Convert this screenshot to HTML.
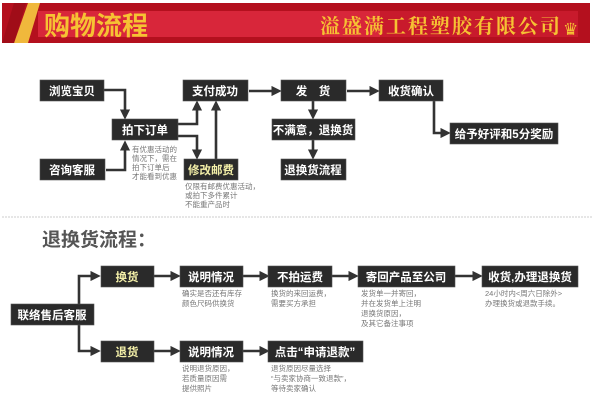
<!DOCTYPE html>
<html><head><meta charset="utf-8"><style>
html,body{margin:0;padding:0;background:#fff;}
svg{display:block;}
text{font-family:"Liberation Sans","Noto Sans CJK SC",sans-serif;}
.b{fill:#2a2a2a;stroke:#555;stroke-width:0.6;}
.t{fill:#fff;font-size:11.5px;font-weight:bold;text-anchor:middle;}
.y{fill:#f3efa8;}
.s{fill:#777;font-size:7.5px;}
.l{stroke:#333;stroke-width:2.6;fill:none;}
</style></head><body>
<svg width="600" height="416" viewBox="0 0 600 416">
<defs><marker id="a" markerWidth="4" markerHeight="4" refX="2.2" refY="2" orient="auto" markerUnits="strokeWidth"><path d="M0,0 L4,2 L0,4 z" fill="#333"/></marker></defs>
<!-- banner -->
<rect x="2" y="3" width="588" height="40" fill="#b4101e"/>
<rect x="38" y="11" width="540" height="26" fill="#d8263a"/>
<rect x="380" y="11" width="198" height="26" fill="#c81a2c"/>
<polygon points="2,3 38,3 2,38" fill="#b4101e"/>
<polygon points="14,43 28,43 40,3 28,3" fill="#f0b83c"/>
<polygon points="2,43 14,43 26,3 14,3" fill="#a00d18"/>
<text x="44" y="35" style="font-size:26px;font-weight:bold;fill:#f6c233;font-family:'Noto Sans CJK SC',sans-serif">购物流程</text>
<text x="320" y="33" style="font-size:20px;font-weight:bold;fill:#f6c233;font-family:'Noto Serif CJK SC',serif;letter-spacing:2px">溢盛满工程塑胶有限公司</text>
<text x="563" y="35" style="font-size:17px;fill:#f6c233">♛</text>
<!-- top flow -->
<path class="l" d="M95,90 H125 V115" marker-end="url(#a)"/>
<path class="l" d="M106,170 H125 V145" marker-end="url(#a)"/>
<path class="l" d="M178,124 H197 V105" marker-end="url(#a)"/>
<path class="l" d="M178,136 H197 V155" marker-end="url(#a)"/>
<path class="l" d="M216,159 V105" marker-end="url(#a)"/>
<path class="l" d="M249,91 H277" marker-end="url(#a)"/>
<path class="l" d="M347,91 H375" marker-end="url(#a)"/>
<path class="l" d="M313,101 V115" marker-end="url(#a)"/>
<path class="l" d="M313,140 V155" marker-end="url(#a)"/>
<path class="l" d="M434,101 V133 H446" marker-end="url(#a)"/>
<rect class="b" x="40" y="80" width="64" height="21"/><text class="t" x="72" y="95">浏览宝贝</text>
<rect class="b" x="112" y="119" width="66" height="21"/><text class="t" x="145" y="134">拍下订单</text>
<rect class="b" x="40" y="159" width="65" height="21"/><text class="t" x="72" y="174">咨询客服</text>
<rect class="b" x="183" y="80" width="65" height="21"/><text class="t" x="215" y="95">支付成功</text>
<rect class="b" x="184" y="159" width="54" height="21"/><text class="t y" x="211" y="174">修改邮费</text>
<rect class="b" x="281" y="80" width="65" height="21"/><text class="t" x="313" y="95">发　货</text>
<rect class="b" x="272" y="119" width="83" height="21"/><text class="t" x="313" y="134">不满意，退换货</text>
<rect class="b" x="281" y="159" width="65" height="21"/><text class="t" x="313" y="174">退换货流程</text>
<rect class="b" x="379" y="80" width="64" height="21"/><text class="t" x="411" y="95">收货确认</text>
<rect class="b" x="450" y="123" width="108" height="21"/><text class="t" x="504" y="138">给予好评和5分奖励</text>
<text class="s" x="132" y="152">有优惠活动的</text><text class="s" x="132" y="161">情况下，需在</text><text class="s" x="132" y="170">拍下订单后</text><text class="s" x="132" y="179">才能看到优惠</text>
<text class="s" x="185" y="189">仅限有邮费优惠活动，</text><text class="s" x="185" y="198">或拍下多件累计</text><text class="s" x="185" y="207">不能重产品时</text>
<line x1="2" y1="217" x2="592" y2="217" stroke="#ddd" stroke-width="1.5" stroke-dasharray="2,1"/>
<text x="42" y="246" style="font-size:19px;font-weight:bold;fill:#555">退换货流程：</text>
<!-- bottom flow -->
<path class="l" d="M79,304 V276 H96" marker-end="url(#a)"/>
<path class="l" d="M79,325 V351 H96" marker-end="url(#a)"/>
<path class="l" d="M154,276 H176" marker-end="url(#a)"/>
<path class="l" d="M243,276 H265" marker-end="url(#a)"/>
<path class="l" d="M332,276 H354" marker-end="url(#a)"/>
<path class="l" d="M455,276 H478" marker-end="url(#a)"/>
<path class="l" d="M154,351 H176" marker-end="url(#a)"/>
<path class="l" d="M243,351 H265" marker-end="url(#a)"/>
<rect class="b" x="11" y="304" width="83" height="21"/><text class="t" x="52" y="319">联络售后客服</text>
<rect class="b" x="101" y="266" width="53" height="21"/><text class="t y" x="127" y="281">换货</text>
<rect class="b" x="180" y="266" width="63" height="21"/><text class="t" x="211" y="281">说明情况</text>
<rect class="b" x="268" y="266" width="64" height="21"/><text class="t" x="300" y="281">不拍运费</text>
<rect class="b" x="358" y="266" width="97" height="21"/><text class="t" x="406" y="281">寄回产品至公司</text>
<rect class="b" x="482" y="266" width="96" height="21"/><text class="t" x="530" y="281">收货,办理退换货</text>
<rect class="b" x="101" y="341" width="53" height="21"/><text class="t y" x="127" y="356">退货</text>
<rect class="b" x="180" y="341" width="63" height="21"/><text class="t" x="211" y="356">说明情况</text>
<rect class="b" x="268" y="341" width="95" height="21"/><text class="t" x="315" y="356">点击“申请退款”</text>
<text class="s" x="182" y="296">确实是否还有库存</text><text class="s" x="182" y="306">颜色尺码供换货</text>
<text class="s" x="271" y="296">换货的来回运费，</text><text class="s" x="271" y="306">需要买方承担</text>
<text class="s" x="361" y="296">发货单一并寄回，</text><text class="s" x="361" y="306">并在发货单上注明</text><text class="s" x="361" y="316">退换货原因，</text><text class="s" x="361" y="326">及其它备注事项</text>
<text class="s" x="485" y="296">24小时内&lt;周六日除外&gt;</text><text class="s" x="485" y="306">办理换货或退款手续。</text>
<text class="s" x="182" y="371">说明退货原因，</text><text class="s" x="182" y="381">若质量原因需</text><text class="s" x="182" y="391">提供照片</text>
<text class="s" x="271" y="371">退货原因尽量选择</text><text class="s" x="271" y="381">“与卖家协商一致退款”，</text><text class="s" x="271" y="391">等待卖家确认</text>
</svg>
</body></html>
